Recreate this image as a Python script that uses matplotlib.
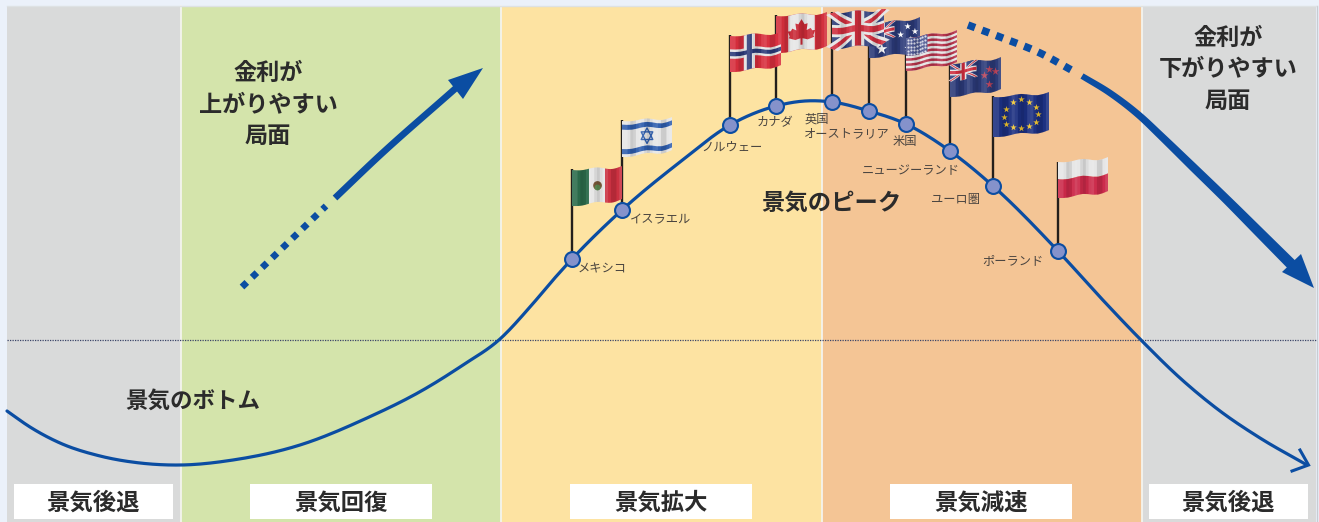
import numpy as np
import matplotlib
matplotlib.use('Agg')
import matplotlib.pyplot as plt
from matplotlib.patches import Polygon, Rectangle

plt.rcParams['font.family'] = ['Noto Sans CJK JP', 'DejaVu Sans']

W, H = 1319, 522

# phases
phase_names = ['景気後退', '景気回復', '景気拡大', '景気減速', '景気後退']
phase_edges = [7, 181, 501, 822, 1142, 1316]
phase_colors = ['#D9DADA', '#D4E4AB', '#FDE3A2', '#F4C595', '#D9DADA']
box_left = [14, 250, 570, 890, 1149]
box_right = [173, 432, 752, 1072, 1308]

# business cycle curve
curve_x = [7, 30, 60, 100, 140, 181, 233, 300, 367, 423, 463, 500, 530, 553, 572, 622,
           680, 730, 776, 805, 832, 869, 906, 950, 993, 1058, 1100, 1141, 1180, 1220, 1260, 1307]
curve_y = [411, 427, 443, 456, 463, 465, 460, 445, 418, 390, 365, 339, 307, 280, 259, 210,
           162, 125, 106, 101, 102, 111, 124, 151, 186, 251, 297, 340, 378, 411, 438, 465]

# countries on the curve
countries = ['メキシコ', 'イスラエル', 'ノルウェー', 'カナダ', '英国', 'オーストラリア',
             '米国', 'ニュージーランド', 'ユーロ圏', 'ポーランド']
point_x = [572, 622, 730, 776, 832, 869, 906, 950, 993, 1058]
point_y = [259, 210, 125, 106, 102, 111, 124, 151, 186, 251]
label_x = [602, 661, 732, 775, 817, 847, 905, 911, 955, 1013]
label_y = [269, 220, 147, 123, 119, 134, 142, 171, 199, 261]

# flag corners: left x, right x, top-left y, bottom-left y, top-right y, bottom-right y
flag_mexico = (572, 622, 170, 206, 167, 200)
flag_israel = (622, 672, 121, 157, 118, 151)
flag_norway = (730, 781, 36, 72, 33, 66)
flag_canada = (776, 827, 16, 53, 13, 47)
flag_uk = (832, 884, 13, 49, 10, 44)
flag_aus = (869, 920, 25, 58, 18, 52)
flag_usa = (906, 957, 38, 71, 31, 63)
flag_nz = (950, 1001, 64, 97, 58, 90)
flag_eu = (993, 1049, 97, 137, 93, 131)
flag_poland = (1058, 1108, 162, 198, 158, 192)

# rate arrows
up_dash_x, up_dash_y = [242, 326], [287, 206]
up_solid_x, up_solid_y = [335, 377, 456], [198, 158, 88]
down_dash_x = [968, 1000, 1040, 1075]
down_dash_y = [25, 37, 53, 72]
down_solid_x = [1082, 1110, 1141, 1160, 1193, 1227, 1260, 1296]
down_solid_y = [76, 93, 117, 135, 167, 200, 233, 269]
down_width = [6, 6.5, 7, 7.5, 8.5, 9, 10, 11]

NAVY = '#2B3A78'
RED = '#CF2E3E'
WHITE = '#E6E6E6'
BLUE = '#0B4DA2'
INK = '#2B2B2B'


def smooth(xs, ys, n=16):  # cubic hermite through the read points, x only ever increases
    xs, ys = np.asarray(xs, float), np.asarray(ys, float)
    m = np.gradient(ys, xs)
    out_x, out_y = [], []
    for i in range(len(xs) - 1):
        h = xs[i + 1] - xs[i]
        t = np.linspace(0, 1, n, endpoint=False)
        out_x.append(xs[i] + h * t)
        out_y.append((2 * t ** 3 - 3 * t ** 2 + 1) * ys[i] + (t ** 3 - 2 * t ** 2 + t) * h * m[i]
                     + (-2 * t ** 3 + 3 * t ** 2) * ys[i + 1] + (t ** 3 - t ** 2) * h * m[i + 1])
    return np.r_[np.concatenate(out_x), xs[-1]], np.r_[np.concatenate(out_y), ys[-1]]


def warp(flag, u, v, phase=0.0):
    x0, x1, tl, bl, tr, br = flag
    u, v = np.asarray(u, float), np.asarray(v, float)
    top = tl + (tr - tl) * u
    bot = bl + (br - bl) * u
    wave = 1.6 * np.sin(2 * np.pi * 1.6 * u + phase) * (0.4 + 0.6 * u)
    return x0 + (x1 - x0) * u, top + (bot - top) * v + wave


def fpoly(ax, flag, pts, color, z, alpha=1.0):  # polygon in flag space, edges split so it follows the wave
    pts = list(pts) + [pts[0]]
    us, vs = [], []
    for (a, b), (c, d) in zip(pts[:-1], pts[1:]):
        us.extend(np.linspace(a, c, 10, endpoint=False))
        vs.extend(np.linspace(b, d, 10, endpoint=False))
    x, y = warp(flag, us, vs)
    ax.add_patch(Polygon(np.column_stack([x, y]), closed=True, fc=color, ec='none', alpha=alpha, zorder=z))


def rect(ax, flag, u0, v0, u1, v1, color, z):
    fpoly(ax, flag, [(u0, v0), (u1, v0), (u1, v1), (u0, v1)], color, z)


def bar(ax, flag, p, q, t, color, z, sx=1.0, sy=1.0):
    d = np.array([(q[0] - p[0]) / sx, (q[1] - p[1]) / sy])
    n = np.array([-d[1], d[0]]) / np.hypot(*d) * t / 2
    n = n * [sx, sy]
    p, q = np.array(p), np.array(q)
    fpoly(ax, flag, [tuple(p + n), tuple(q + n), tuple(q - n), tuple(p - n)], color, z)


def union_jack(ax, flag, u0, v0, u1, v1, z):
    rect(ax, flag, u0, v0, u1, v1, NAVY, z)
    du, dv = u1 - u0, v1 - v0
    s = (du * 1.4, dv)
    for p, q in [((u0, v0), (u1, v1)), ((u0, v1), (u1, v0))]:
        bar(ax, flag, p, q, 0.20 * dv, WHITE, z, *s)
        bar(ax, flag, p, q, 0.08 * dv, RED, z, *s)
    um, vm = (u0 + u1) / 2, (v0 + v1) / 2
    rect(ax, flag, um - 0.12 * du, v0, um + 0.12 * du, v1, WHITE, z)
    rect(ax, flag, u0, vm - 0.17 * dv, u1, vm + 0.17 * dv, WHITE, z)
    rect(ax, flag, um - 0.06 * du, v0, um + 0.06 * du, v1, RED, z)
    rect(ax, flag, u0, vm - 0.09 * dv, u1, vm + 0.09 * dv, RED, z)


def stars(ax, flag, us, vs, color, size, z, marker='*'):
    x, y = warp(flag, us, vs)
    ax.scatter(x, y, s=size, c=color, marker=marker, linewidths=0, zorder=z)


def folds(ax, flag, z, phase=0.5):  # cloth shading
    steps = np.linspace(0, 1, 19)
    for a, b in zip(steps[:-1], steps[1:]):
        s = np.sin(2 * np.pi * 3.2 * (a + b) / 2 + phase)
        fpoly(ax, flag, [(a, 0), (b, 0), (b, 1), (a, 1)], 'black' if s < 0 else 'white', z, alpha=abs(s) * 0.13)


def draw_mexico(ax, f, z):
    rect(ax, f, 0, 0, 0.34, 1, '#2C6C4C', z)
    rect(ax, f, 0.34, 0, 0.66, 1, WHITE, z)
    rect(ax, f, 0.66, 0, 1, 1, '#CB2F3F', z)
    stars(ax, f, [0.5], [0.5], '#7A5A3A', 40, z, 'o')
    stars(ax, f, [0.5], [0.58], '#5F8F55', 18, z, 'o')


def draw_israel(ax, f, z):
    rect(ax, f, 0, 0, 1, 1, WHITE, z)
    rect(ax, f, 0, 0.1, 1, 0.24, '#2F5EAE', z)
    rect(ax, f, 0, 0.78, 1, 0.92, '#2F5EAE', z)
    x, y = warp(f, [0.5], [0.5])
    ax.scatter(x, y - 2, s=70, marker='^', facecolors='none', edgecolors='#2F5EAE', linewidths=1.0, zorder=z)
    ax.scatter(x, y + 2, s=70, marker='v', facecolors='none', edgecolors='#2F5EAE', linewidths=1.0, zorder=z)


def draw_norway(ax, f, z):
    rect(ax, f, 0, 0, 1, 1, '#D82E3D', z)
    rect(ax, f, 0.27, 0, 0.49, 1, WHITE, z)
    rect(ax, f, 0, 0.37, 1, 0.63, WHITE, z)
    rect(ax, f, 0.33, 0, 0.43, 1, NAVY, z)
    rect(ax, f, 0, 0.44, 1, 0.56, NAVY, z)


def draw_canada(ax, f, z):
    rect(ax, f, 0, 0, 1, 1, '#D32F3C', z)
    rect(ax, f, 0.24, 0, 0.76, 1, WHITE, z)
    leaf = [(0.5, 0.16), (0.56, 0.3), (0.62, 0.26), (0.6, 0.46), (0.68, 0.38), (0.71, 0.44),
            (0.77, 0.43), (0.73, 0.58), (0.75, 0.62), (0.62, 0.72), (0.52, 0.7), (0.52, 0.88),
            (0.48, 0.88), (0.48, 0.7), (0.38, 0.72), (0.25, 0.62), (0.27, 0.58), (0.23, 0.43),
            (0.29, 0.44), (0.32, 0.38), (0.4, 0.46), (0.38, 0.26), (0.44, 0.3)]
    fpoly(ax, f, leaf, '#C92A37', z)


def draw_uk(ax, f, z):
    union_jack(ax, f, 0, 0, 1, 1, z)


def draw_aus(ax, f, z):
    rect(ax, f, 0, 0, 1, 1, NAVY, z)
    union_jack(ax, f, 0, 0, 0.5, 0.5, z)
    stars(ax, f, [0.25, 0.76, 0.62, 0.76, 0.9, 0.82], [0.76, 0.16, 0.42, 0.8, 0.36, 0.52], 'white',
          [70, 26, 26, 26, 26, 12], z)


def draw_usa(ax, f, z):
    rect(ax, f, 0, 0, 1, 1, WHITE, z)
    for i in range(0, 13, 2):
        rect(ax, f, 0, i / 13, 1, (i + 1) / 13, '#B5324A', z)
    rect(ax, f, 0, 0, 0.42, 7 / 13, '#4A5590', z)
    uu, vv = np.meshgrid(np.linspace(0.04, 0.38, 7), np.linspace(0.05, 0.49, 5))
    stars(ax, f, uu.ravel(), vv.ravel(), '#D8DAE8', 2.5, z, 'o')


def draw_nz(ax, f, z):
    rect(ax, f, 0, 0, 1, 1, NAVY, z)
    union_jack(ax, f, 0, 0, 0.52, 0.52, z)
    stars(ax, f, [0.76, 0.66, 0.88, 0.76], [0.24, 0.44, 0.36, 0.72], '#B8435A', 36, z)


def draw_eu(ax, f, z):
    rect(ax, f, 0, 0, 1, 1, '#1B2F80', z)
    a = np.arange(12) * np.pi / 6
    stars(ax, f, 0.5 + 0.3 * np.cos(a), 0.5 + 0.37 * np.sin(a), '#F2C62E', 24, z)


def draw_poland(ax, f, z):
    rect(ax, f, 0, 0, 1, 0.48, WHITE, z)
    rect(ax, f, 0, 0.48, 1, 1, '#CC2A4A', z)


fig = plt.figure(figsize=(W / 100, H / 100), dpi=100, facecolor='#EBF1FA')
ax = fig.add_axes([0, 0, 1, 1])
ax.set_xlim(0, W)
ax.set_ylim(H, 0)
ax.axis('off')

# background bands
for i, c in enumerate(phase_colors):
    ax.add_patch(Rectangle((phase_edges[i], 6), phase_edges[i + 1] - phase_edges[i], H - 6, fc=c, ec='none', zorder=1))
for x in phase_edges[1:-1]:
    ax.plot([x, x], [6, H], color='#F4F4EE', lw=1.3, zorder=1.1)
ax.plot([1316.5, 1316.5], [6, H], color='#C8CCD2', lw=1, zorder=1.1)
ax.plot([7, 1316], [6, 6], color='#DEE2E4', lw=1, zorder=1.1)

# trend line level
ax.plot([7, 1316], [340, 340], color='#3A4468', lw=0.9, ls=(0, (1, 1)), zorder=1.5)

# phase labels
for name, a, b in zip(phase_names, box_left, box_right):
    ax.add_patch(Rectangle((a, 484), b - a, 35, fc='white', ec='none', zorder=2))
    ax.text((a + b) / 2, 503, name, ha='center', va='center', fontsize=16.8, weight='bold', color=INK, zorder=3)

# rate arrows
ax.plot(up_dash_x, up_dash_y, color=BLUE, lw=4.8, ls=(0, (1, 1.1)), zorder=2)
ux, uy = smooth(up_solid_x, up_solid_y)
ax.plot(ux, uy, color=BLUE, lw=4.8, zorder=2, solid_capstyle='butt')
ax.add_patch(Polygon([(483, 68), (448, 80), (463, 99)], closed=True, fc=BLUE, ec='none', zorder=2))

dx, dy = smooth(down_dash_x, down_dash_y)
ax.plot(dx, dy, color=BLUE, lw=5.4, ls=(0, (1, 1)), zorder=2)
sx, sy = smooth(down_solid_x, down_solid_y)
width = np.interp(np.arange(len(sx)), np.linspace(0, len(sx) - 1, len(down_width)), down_width)
tx, ty = np.gradient(sx), np.gradient(sy)
norm = np.hypot(tx, ty)
nx, ny = -ty / norm * width / 2, tx / norm * width / 2
ax.fill(np.r_[sx + nx, (sx - nx)[::-1]], np.r_[sy + ny, (sy - ny)[::-1]], color=BLUE, lw=0, zorder=2)
ax.add_patch(Polygon([(1314, 288), (1301, 254), (1282, 272)], closed=True, fc=BLUE, ec='none', zorder=2))

# poles, behind every flag
pole_tops = [169, 120, 35, 15, 12, 27, 38, 64, 96, 162]
for x, y, top in zip(point_x, point_y, pole_tops):
    ax.plot([x, x], [y, top], color='#231F1C', lw=1.7, zorder=3, solid_capstyle='butt')

# flags, in stacking order
stack = [(flag_mexico, draw_mexico), (flag_israel, draw_israel), (flag_canada, draw_canada),
         (flag_norway, draw_norway), (flag_nz, draw_nz), (flag_aus, draw_aus), (flag_uk, draw_uk),
         (flag_usa, draw_usa), (flag_eu, draw_eu), (flag_poland, draw_poland)]
for i, (f, fn) in enumerate(stack):
    z = 4 + i * 0.1
    fn(ax, f, z)
    folds(ax, f, z + 0.05)

# business cycle
cx, cy = smooth(curve_x, curve_y)
ax.plot(cx, cy, color=BLUE, lw=2.3, zorder=5, solid_capstyle='round')
ax.plot([1300, 1308.5, 1292], [450, 465, 471], color=BLUE, lw=2.2, zorder=5, solid_joinstyle='miter')

ax.scatter(point_x, point_y, s=115, fc='#8592CB', ec=BLUE, linewidths=1.5, zorder=6)
for name, x, y in zip(countries, label_x, label_y):
    ax.text(x, y, name, ha='center', va='center', fontsize=8.8, color='#4A4540', zorder=7)

# captions
ax.text(268, 105, '金利が\n上がりやすい\n局面', ha='center', va='center', fontsize=16.7, weight='bold',
        color=INK, linespacing=1.45, zorder=7)
ax.text(1228, 70, '金利が\n下がりやすい\n局面', ha='center', va='center', fontsize=16.7, weight='bold',
        color=INK, linespacing=1.45, zorder=7)
ax.text(831, 203, '景気のピーク', ha='center', va='center', fontsize=16.8, weight='bold', color=INK, zorder=7)
ax.text(193, 401, '景気のボトム', ha='center', va='center', fontsize=16.2, weight='bold', color=INK, zorder=7)

fig.savefig('out.png', dpi=100, facecolor=fig.get_facecolor())
